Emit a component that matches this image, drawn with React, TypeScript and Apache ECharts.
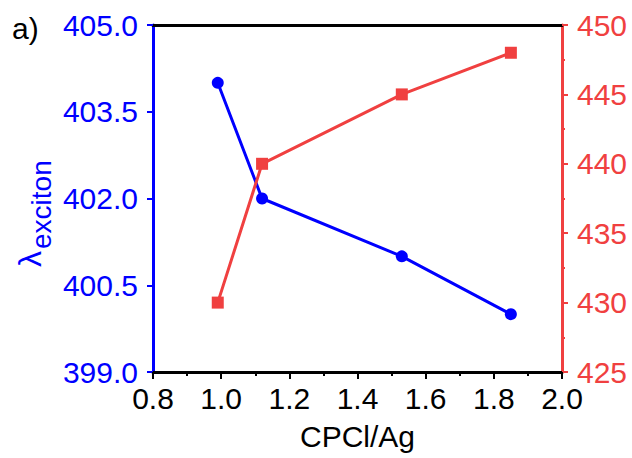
import React, { useEffect, useRef } from "react";
import * as echarts from "echarts";

// CPCl/Ag ratio and the two measured quantities
const ratio = [0.99, 1.12, 1.53, 1.85];
const excitonPeak = [404.0, 402.0, 401.0, 400.0];
const rightSeries = [430, 440, 445, 448];

const BLUE = "#0000FF";
const RED = "#F04040";
const FONT = "'Liberation Sans', Arial, sans-serif";

export default function App() {
  const ref = useRef<HTMLDivElement>(null);

  useEffect(() => {
    if (!ref.current) return;
    const chart = echarts.init(ref.current, null, { renderer: "svg" });
    chart.setOption({
      animation: false,
      backgroundColor: "#ffffff",
      grid: { left: 153, right: 70, top: 25, bottom: 86, containLabel: false },
      xAxis: [
        {
          type: "value",
          min: 0.8,
          max: 2.0,
          interval: 0.2,
          position: "bottom",
          axisLine: { show: true, onZero: false, lineStyle: { color: "#000", width: 3 } },
          axisTick: { show: true, length: 7, lineStyle: { color: "#000", width: 2 } },
          minorTick: { show: true, splitNumber: 2, length: 4, lineStyle: { color: "#000", width: 2 } },
          splitLine: { show: false },
          axisLabel: {
            color: "#000",
            fontSize: 30,
            fontFamily: FONT,
            margin: 11,
            formatter: (v: number) => v.toFixed(1),
          },
          name: "CPCl/Ag",
          nameLocation: "middle",
          nameGap: 49,
          nameTextStyle: { color: "#000", fontSize: 30, fontFamily: FONT },
        },
        {
          type: "value",
          min: 0.8,
          max: 2.0,
          position: "top",
          axisLine: { show: true, onZero: false, lineStyle: { color: "#000", width: 3 } },
          axisTick: { show: false },
          axisLabel: { show: false },
          splitLine: { show: false },
        },
      ],
      yAxis: [
        {
          type: "value",
          min: 399,
          max: 405,
          interval: 1.5,
          position: "left",
          axisLine: { show: true, onZero: false, lineStyle: { color: BLUE, width: 3 } },
          axisTick: { show: true, length: 6, lineStyle: { color: BLUE, width: 2 } },
          splitLine: { show: false },
          axisLabel: {
            color: BLUE,
            fontSize: 30,
            fontFamily: FONT,
            margin: 15,
            formatter: (v: number) => v.toFixed(1),
          },
        },
        {
          type: "value",
          min: 425,
          max: 450,
          interval: 5,
          position: "right",
          axisLine: { show: true, onZero: false, lineStyle: { color: RED, width: 3 } },
          axisTick: { show: true, length: 6, lineStyle: { color: RED, width: 2 } },
          minorTick: { show: true, splitNumber: 2, length: 3, lineStyle: { color: RED, width: 2 } },
          splitLine: { show: false },
          axisLabel: { color: RED, fontSize: 30, fontFamily: FONT, margin: 15 },
        },
      ],
      series: [
        {
          type: "line",
          xAxisIndex: 0,
          yAxisIndex: 0,
          data: ratio.map((x, i) => [x, excitonPeak[i]]),
          symbol: "circle",
          symbolSize: 12,
          lineStyle: { color: BLUE, width: 3 },
          itemStyle: { color: BLUE },
          z: 3,
        },
        {
          type: "line",
          xAxisIndex: 0,
          yAxisIndex: 1,
          data: ratio.map((x, i) => [x, rightSeries[i]]),
          symbol: "rect",
          symbolSize: 12,
          lineStyle: { color: RED, width: 3 },
          itemStyle: { color: RED },
          z: 4,
        },
      ],
      graphic: [
        {
          type: "text",
          left: 12,
          top: 13,
          style: { text: "a)", fill: "#000", fontSize: 30, fontFamily: FONT },
        },
        {
          type: "group",
          x: 46,
          y: 267,
          rotation: Math.PI / 2,
          children: [
            {
              type: "text",
              x: 0,
              y: 0,
              style: {
                text: "λ",
                fill: BLUE,
                fontSize: 32,
                fontFamily: FONT,
                verticalAlign: "bottom",
              },
            },
            {
              type: "text",
              x: 18,
              y: 9,
              style: {
                text: "exciton",
                fill: BLUE,
                fontSize: 28,
                fontFamily: FONT,
                verticalAlign: "bottom",
              },
            },
          ],
        },
      ],
    });
    return () => chart.dispose();
  }, []);

  return (
    <div
      ref={ref}
      style={{ position: "absolute", left: 0, top: 0, width: 632, height: 458 }}
    />
  );
}
